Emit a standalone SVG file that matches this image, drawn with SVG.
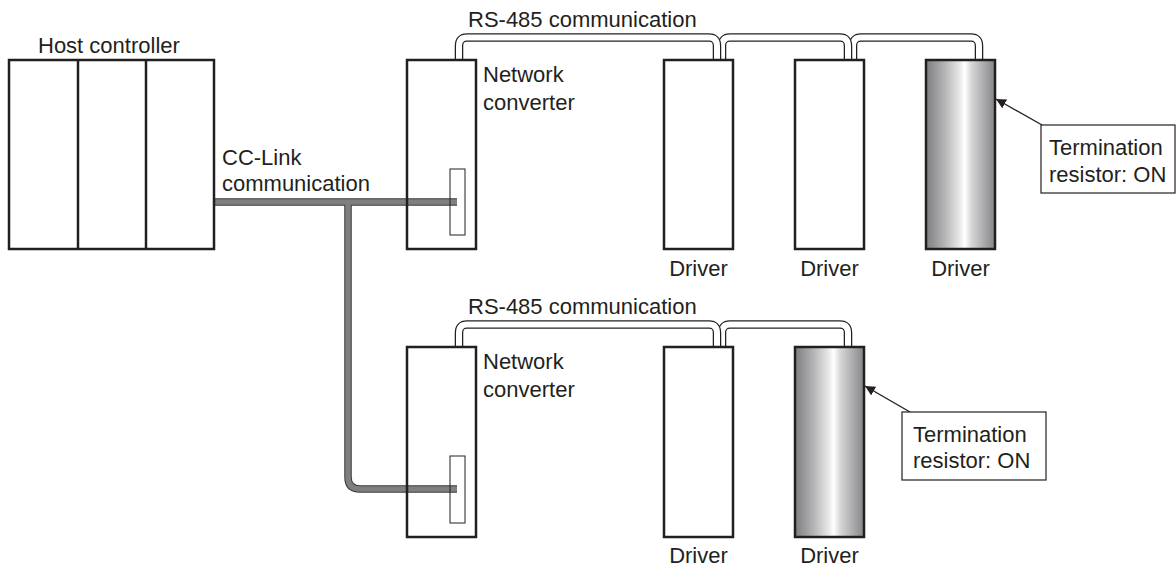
<svg xmlns="http://www.w3.org/2000/svg" width="1176" height="567" viewBox="0 0 1176 567">
<style>
text{font-family:"Liberation Sans",Arial,sans-serif;font-size:22px;fill:#231f20}
.box{fill:none;stroke:#231f20;stroke-width:2.5}
.conn{fill:none;stroke:#231f20;stroke-width:1}
.tubeO{fill:none;stroke:#231f20;stroke-width:8.5;stroke-linejoin:round}
.tubeI{fill:none;stroke:#fff;stroke-width:6;stroke-linejoin:round}
.cabO{fill:none;stroke:#3a3a3a;stroke-width:7.5}
.cabI{fill:none;stroke:#7f7f80;stroke-width:5.5}
.call{fill:#fff;stroke:#231f20;stroke-width:1.2}
.lead{stroke:#231f20;stroke-width:1.4}
.mid{text-anchor:middle}
</style>
<defs>
<linearGradient id="metal" x1="0" y1="0" x2="1" y2="0">
<stop offset="0" stop-color="#7e7e80"/>
<stop offset="0.25" stop-color="#b0b0b2"/>
<stop offset="0.48" stop-color="#e6e6e7"/>
<stop offset="0.56" stop-color="#ffffff"/>
<stop offset="0.66" stop-color="#d6d6d8"/>
<stop offset="1" stop-color="#858587"/>
</linearGradient>
<marker id="ah" viewBox="0 0 10 10" refX="10" refY="5" markerWidth="10" markerHeight="10" markerUnits="userSpaceOnUse" orient="auto">
<path d="M0,0 L10,5 L0,10 z" fill="#231f20"/>
</marker>
</defs>

<g id="connectors">
<!-- CC-Link trunk -->
<path class="cabO" d="M214,202 H457 M348,202 V477 Q348,489 360,489 H457"/>
<path class="cabI" d="M214,202 H457 M348,203 V477 Q348,489 360,489 H457"/>
<!-- RS-485 row 1 -->
<path class="tubeO" d="M853,60 V46 Q853,37.5 861,37.5 H971 Q979,37.5 979,46 V60"/>
<path class="tubeI" d="M853,60 V46 Q853,37.5 861,37.5 H971 Q979,37.5 979,46 V60"/>
<path class="tubeO" d="M722,60 V46 Q722,37.5 730,37.5 H840 Q848,37.5 848,46 V60"/>
<path class="tubeI" d="M722,60 V46 Q722,37.5 730,37.5 H840 Q848,37.5 848,46 V60"/>
<path class="tubeO" d="M459,60 V46 Q459,37.5 467,37.5 H709 Q717,37.5 717,46 V60"/>
<path class="tubeI" d="M459,60 V46 Q459,37.5 467,37.5 H709 Q717,37.5 717,46 V60"/>
<!-- RS-485 row 2 -->
<path class="tubeO" d="M722,347 V333 Q722,324.5 730,324.5 H840 Q848,324.5 848,333 V347"/>
<path class="tubeI" d="M722,347 V333 Q722,324.5 730,324.5 H840 Q848,324.5 848,333 V347"/>
<path class="tubeO" d="M459,347 V333 Q459,324.5 467,324.5 H709 Q717,324.5 717,333 V347"/>
<path class="tubeI" d="M459,347 V333 Q459,324.5 467,324.5 H709 Q717,324.5 717,333 V347"/>
<!-- leaders -->
<line class="lead" x1="1042" y1="125" x2="996" y2="99" marker-end="url(#ah)"/>
<line class="lead" x1="910" y1="412" x2="865" y2="386" marker-end="url(#ah)"/>
</g>

<g id="host">
<rect class="box" x="9" y="60" width="205" height="189"/>
<line class="box" x1="78" y1="60" x2="78" y2="249"/>
<line class="box" x1="146" y1="60" x2="146" y2="249"/>
<text x="38" y="53">Host controller</text>
</g>
<text x="222" y="165">CC-Link</text>
<text x="222" y="191">communication</text>

<g id="nc1">
<rect class="box" x="407" y="60" width="69" height="189"/>
<rect class="conn" x="450" y="169" width="15" height="66"/>
<text x="483" y="82">Network</text>
<text x="483" y="110">converter</text>
</g>
<text x="468" y="27">RS-485 communication</text>

<g id="d1a">
<rect class="box" x="664" y="60" width="69" height="189"/>
<text class="mid" x="698.5" y="276">Driver</text>
</g>
<g id="d2a">
<rect class="box" x="795" y="60" width="69" height="189"/>
<text class="mid" x="829.5" y="276">Driver</text>
</g>
<g id="d3a">
<rect class="box" x="926" y="60" width="69" height="189" fill="url(#metal)" style="fill:url(#metal)"/>
<text class="mid" x="960.5" y="276">Driver</text>
</g>
<g id="term1">
<rect class="call" x="1041" y="125" width="134" height="68"/>
<text x="1049" y="155">Termination</text>
<text x="1049" y="182">resistor: ON</text>
</g>

<g id="nc2">
<rect class="box" x="407" y="347" width="69" height="190"/>
<rect class="conn" x="450" y="456" width="15" height="67"/>
<text x="483" y="369">Network</text>
<text x="483" y="397">converter</text>
</g>
<text x="468" y="314">RS-485 communication</text>

<g id="d1b">
<rect class="box" x="664" y="347" width="69" height="190"/>
<text class="mid" x="698.5" y="563">Driver</text>
</g>
<g id="d2b">
<rect class="box" x="795" y="347" width="69" height="190" style="fill:url(#metal)"/>
<text class="mid" x="829.5" y="563">Driver</text>
</g>
<g id="term2">
<rect class="call" x="902" y="412" width="144" height="68"/>
<text x="913" y="442">Termination</text>
<text x="913" y="468">resistor: ON</text>
</g>
</svg>
